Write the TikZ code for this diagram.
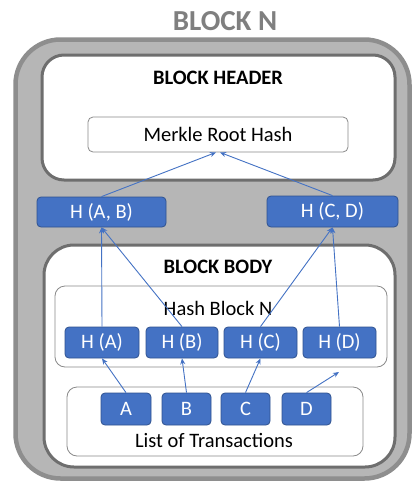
\documentclass[tikz,border=0pt]{standalone}
\usepackage{fontspec}
\setmainfont{Carlito}
\usetikzlibrary{arrows.meta}
\definecolor{bblue}{HTML}{4472C4}
\definecolor{bblueD}{HTML}{2F528F}
\definecolor{outerfill}{HTML}{B6B6B6}
\definecolor{outerline}{HTML}{8E8E8E}
\definecolor{innerline}{HTML}{6E6E6E}
\definecolor{thinline}{HTML}{8A8A8A}
\definecolor{titlegray}{HTML}{7F7F7F}
\tikzset{
  outerbox/.style={draw=outerline, line width=4.5pt, fill=outerfill, rounded corners=45pt, inner sep=0pt},
  bigbox/.style={draw=innerline, line width=3pt, fill=white, inner sep=0pt},
  thinbox/.style={draw=thinline, line width=0.8pt, fill=white, inner sep=0pt},
  hbox/.style={draw=bblueD, line width=0.8pt, fill=bblue, text=white, rounded corners=4pt, inner sep=0pt, font=\fontsize{20.5}{24}\selectfont},
  lbl/.style={inner sep=0pt, font=\fontsize{20.5}{24}\selectfont},
  hdr/.style={inner sep=0pt, font=\fontsize{20.5}{24}\selectfont\bfseries},
  arr/.style={draw=bblue, line width=0.9pt, -{Stealth[length=6pt,width=5pt]}},
}
\begin{document}
\begin{tikzpicture}[x=1pt,y=-1pt]
\useasboundingbox (0,0) rectangle (413,483);
\node[inner sep=0pt, text=titlegray, font=\fontsize{29}{33}\selectfont\bfseries] (title) at (225,21) {BLOCK N};
\node[outerbox, minimum width=394pt, minimum height=439pt] (outer) at (212.5,259) {};
\node[bigbox, rounded corners=22pt, minimum width=353pt, minimum height=125pt] (header) at (218.5,117.5) {};
\node[hdr] (headerlbl) at (218,78) {BLOCK HEADER};
\node[thinbox, rounded corners=5pt, minimum width=260pt, minimum height=35pt, font=\fontsize{20.5}{24}\selectfont] (merkle) at (218,134.5) {Merkle Root Hash};
\node[hbox, minimum width=129pt, minimum height=30pt] (hab) at (101.5,212) {H (A, B)};
\node[hbox, minimum width=131pt, minimum height=31pt] (hcd) at (332.5,211.5) {H (C, D)};
\node[bigbox, rounded corners=30pt, minimum width=351pt, minimum height=222pt] (body) at (219.5,356) {};
\node[hdr] (bodylbl) at (218,267) {BLOCK BODY};
\node[thinbox, rounded corners=10pt, minimum width=332pt, minimum height=81pt] (hashblk) at (221,326.5) {};
\node[lbl] (hashlbl) at (218,308) {Hash Block N};
\node[hbox, minimum width=74pt, minimum height=31pt] (ha) at (102,342.5) {H (A)};
\node[hbox, minimum width=72pt, minimum height=31pt] (hb) at (182,342.5) {H (B)};
\node[hbox, minimum width=73pt, minimum height=31pt] (hc) at (260.5,342.5) {H (C)};
\node[hbox, minimum width=73pt, minimum height=31pt] (hd) at (339.5,342.5) {H (D)};
\node[thinbox, rounded corners=10pt, minimum width=296pt, minimum height=69pt] (list) at (215,421.5) {};
\node[lbl] (listlbl) at (214,440) {List of Transactions};
\node[hbox, minimum width=50pt, minimum height=32pt] (ta) at (126,409) {A};
\node[hbox, minimum width=49pt, minimum height=32pt] (tb) at (186.5,409) {B};
\node[hbox, minimum width=49pt, minimum height=32pt] (tc) at (245.5,409) {C};
\node[hbox, minimum width=49pt, minimum height=32pt] (td) at (306.5,409) {D};
\coordinate (dend) at (339,372);
\draw[arr] (ta.north) -- (ha.south);
\draw[arr] (tb.north) -- (hb.south);
\draw[arr] (tc.north) -- (hc.south);
\draw[arr] (td.north) -- (dend);
\draw[arr] (ha.north) -- (hab.south);
\draw[arr] (hb.north) -- (hab.south);
\draw[arr] (hc.north) -- (hcd.south);
\draw[arr] (hd.north) -- (hcd.south);
\draw[arr] (hab.north) -- ([xshift=-2pt]merkle.south);
\draw[arr] (hcd.north) -- ([xshift=2pt]merkle.south);
\end{tikzpicture}
\end{document}
